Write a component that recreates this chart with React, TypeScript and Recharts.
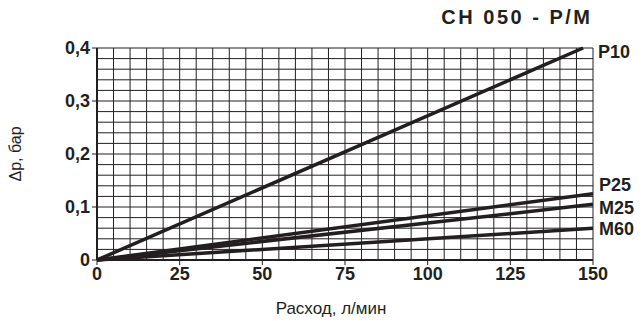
import { LineChart, Line, XAxis, YAxis, ReferenceLine, Label } from "recharts";

const FLOW_P10 = [0, 147];
const DP_P10 = [0, 0.4];
const FLOW_REST = [0, 150];
const DP_P25 = [0, 0.125];
const DP_M25 = [0, 0.105];
const DP_M60 = [0, 0.06];

const X_TICKS = [0, 25, 50, 75, 100, 125, 150];
const Y_TICKS = [0, 0.1, 0.2, 0.3, 0.4];
const X_GRID_STEP = 5;
const Y_GRID_STEP = 0.02;

const SERIES = [
  { name: "P10", flow: FLOW_P10, dp: DP_P10, dx: 15, dy: 5 },
  { name: "P25", flow: FLOW_REST, dp: DP_P25, dx: 6, dy: -8 },
  { name: "M25", flow: FLOW_REST, dp: DP_M25, dx: 6, dy: 5 },
  { name: "M60", flow: FLOW_REST, dp: DP_M60, dx: 6, dy: 2 },
];

const FONT = "'Liberation Sans', Arial, sans-serif";
const INK = "#231f20";

const xGrid: number[] = [];
for (let v = X_GRID_STEP; v <= 150; v += X_GRID_STEP) xGrid.push(v);
const yGrid: number[] = [];
for (let i = 1; i <= 20; i++) yGrid.push(+(i * Y_GRID_STEP).toFixed(2));

const fmt = (v: number) => (v === 0 ? "0" : v.toFixed(1).replace(".", ","));

const tickStyle = { fontSize: 18, fontWeight: 700, fill: INK, fontFamily: FONT };

export default function App() {
  return (
    <div style={{ position: "absolute", left: 0, top: 0, width: 642, height: 321, background: "#fff", fontFamily: FONT }}>
      <div
        style={{
          position: "absolute",
          right: 52,
          top: 5,
          fontSize: 20,
          lineHeight: "24px",
          fontWeight: 700,
          letterSpacing: 2.5,
          color: INK,
          marginRight: -2.5,
        }}
      >
        CH 050 - P/M
      </div>
      <LineChart width={642} height={321} margin={{ top: 48, right: 49, left: 37, bottom: 31 }}>
        {xGrid.map((v) => (
          <ReferenceLine key={"x" + v} x={v} stroke={INK} strokeWidth={1} />
        ))}
        {yGrid.map((v) => (
          <ReferenceLine key={"y" + v} y={v} stroke={INK} strokeWidth={1} />
        ))}
        <XAxis
          type="number"
          dataKey="x"
          domain={[0, 150]}
          ticks={X_TICKS}
          allowDataOverflow
          height={30}
          tick={tickStyle}
          tickLine={{ stroke: INK }}
          tickSize={5}
          axisLine={{ stroke: INK, strokeWidth: 2 }}
        >
          <Label value="Расход, л/мин" position="insideBottom" offset={-24} dx={-14} fill={INK} fontSize={17} fontFamily={FONT} />
        </XAxis>
        <YAxis
          type="number"
          domain={[0, 0.4]}
          ticks={Y_TICKS}
          width={60}
          tickFormatter={fmt}
          tick={tickStyle}
          tickLine={{ stroke: INK }}
          tickSize={5}
          axisLine={{ stroke: INK, strokeWidth: 2 }}
        >
          <Label value="Δp, бар" angle={-90} position="insideLeft" offset={-22} fill={INK} fontSize={16} fontFamily={FONT} style={{ textAnchor: "middle" }} />
        </YAxis>
        {SERIES.map((s) => {
          const data = s.flow.map((x, i) => ({ x, y: s.dp[i] }));
          const last = data.length - 1;
          return (
            <Line
              key={s.name}
              data={data}
              dataKey="y"
              type="linear"
              stroke={INK}
              strokeWidth={3.5}
              dot={false}
              isAnimationActive={false}
              label={(p: any) =>
                p.index === last ? (
                  <text
                    key={s.name}
                    x={p.x + s.dx}
                    y={p.y + s.dy}
                    fontSize={18}
                    fontWeight={700}
                    fill={INK}
                    fontFamily={FONT}
                    dominantBaseline="middle"
                  >
                    {s.name}
                  </text>
                ) : (
                  <g key={s.name + p.index} />
                )
              }
            />
          );
        })}
      </LineChart>
    </div>
  );
}
